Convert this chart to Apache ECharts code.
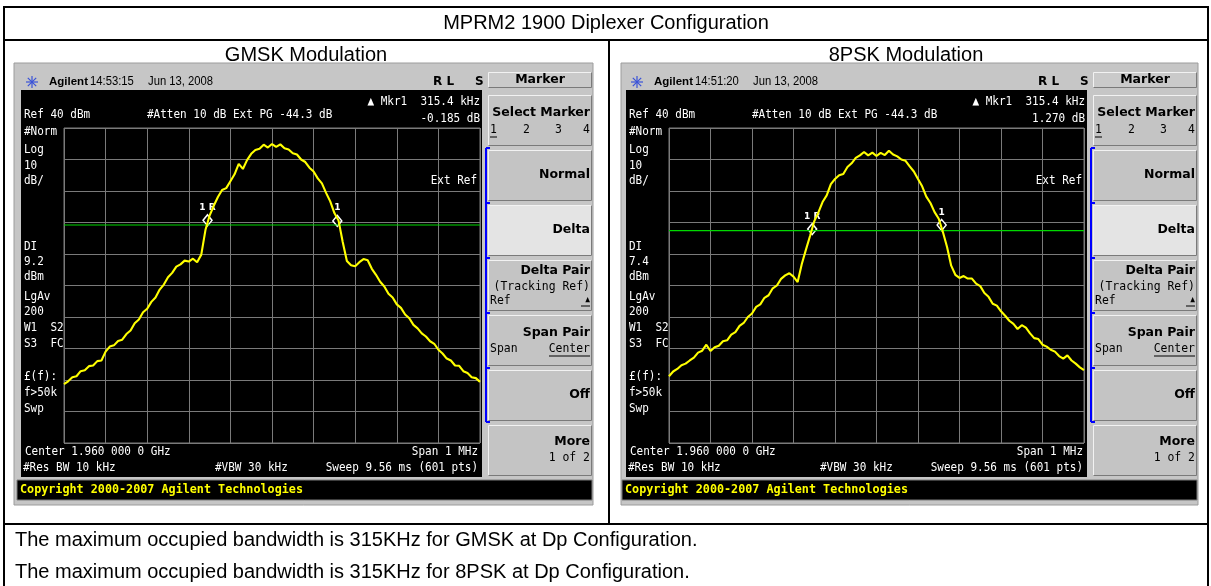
<!DOCTYPE html>
<html>
<head>
<meta charset="utf-8">
<script src="https://cdn.jsdelivr.net/npm/echarts@6/dist/echarts.min.js"></script>
<style>
html, body { margin: 0; padding: 0; background: #fff; }
#main { width: 1211px; height: 586px; }
</style>
</head>
<body>
<div id="main"></div>
<script>
// sweep points, kHz offset from 1.960 GHz centre
const freqKHz = [
  -500, -490, -480, -470, -460, -450, -440, -430, -420, -410,
  -400, -390, -380, -370, -360, -350, -340, -330, -320, -310,
  -300, -290, -280, -270, -260, -250, -240, -230, -220, -210,
  -200, -190, -180, -170, -160, -150, -140, -130, -120, -110,
  -100, -90, -80, -70, -60, -50, -40, -30, -20, -10,
  0, 10, 20, 30, 40, 50, 60, 70, 80, 90,
  100, 110, 120, 130, 140, 150, 160, 170, 180, 190,
  200, 210, 220, 230, 240, 250, 260, 270, 280, 290,
  300, 310, 320, 330, 340, 350, 360, 370, 380, 390,
  400, 410, 420, 430, 440, 450, 460, 470, 480, 490, 500
];

// GMSK trace, dBm
const gmskTrace = [
  -41.3, -40.4, -39.1, -38.8, -37.2, -36.9, -35.6, -35.4, -34.0, -33.8,
  -31.0, -29.4, -29.0, -27.6, -27.2, -25.4, -24.3, -22.0, -20.8, -18.5,
  -17.4, -15.2, -13.8, -11.3, -9.7, -7.4, -6.0, -4.0, -3.3, -2.1,
  -2.4, -1.5, -2.6, -0.2, 7.6, 12.2, 15.3, 18.1, 20.3, 20.9,
  23.1, 25.3, 28.6, 27.0, 29.8, 31.8, 33.0, 33.4, 34.7, 33.8,
  34.9, 34.0, 34.8, 33.6, 33.2, 32.0, 31.6, 30.0, 29.2, 27.4,
  26.2, 24.0, 22.4, 19.4, 16.7, 13.0, 10.6, 3.8, -2.2, -3.6,
  -3.9, -2.6, -1.6, -2.0, -4.7, -6.6, -8.8, -10.3, -12.6, -13.8,
  -16.0, -17.1, -19.2, -20.4, -22.5, -23.6, -25.2, -26.2, -27.7, -28.5,
  -30.4, -31.6, -33.2, -33.8, -35.4, -35.5, -37.2, -37.8, -39.1, -39.4, -40.6
];

// 8PSK trace, dBm
const psk8Trace = [
  -38.8, -37.3, -36.5, -35.3, -34.8, -33.8, -32.9, -31.3, -30.7, -28.8,
  -30.8, -29.6, -29.1, -27.7, -27.4, -25.6, -24.8, -22.8, -21.9, -20.0,
  -18.9, -16.8, -16.0, -13.9, -13.1, -10.9, -10.0, -7.9, -6.8, -6.1,
  -7.2, -8.9, -3.2, 1.4, 5.8, 10.4, 13.2, 16.5, 18.6, 22.2,
  23.8, 25.0, 25.4, 27.6, 28.8, 30.5, 31.3, 32.4, 31.3, 32.2,
  31.1, 32.1, 31.4, 32.8, 31.6, 31.0, 30.0, 29.6, 27.8, 26.2,
  23.8, 21.5, 18.2, 16.2, 13.3, 11.2, 7.0, 2.2, -3.7, -6.6,
  -7.6, -7.0, -7.8, -7.8, -9.4, -10.2, -12.4, -13.6, -15.8, -16.4,
  -18.2, -19.6, -21.2, -22.2, -23.8, -22.6, -23.4, -25.2, -26.7, -27.0,
  -28.8, -29.4, -30.4, -31.0, -32.4, -33.2, -32.2, -33.8, -34.8, -36.0, -36.9
];

// markers [kHz, dBm] and display line
const markerNames = ['1 R', '1'];
const gmskMarkers = [[-155, 10.7], [157, 10.5]];
const psk8Markers = [[-155, 7.9], [157, 9.2]];
const gmskDisplayLine = 9.2;
const psk8DisplayLine = 7.4;

// screen scale: ref level 40 dBm, 10 dB/div, span 1 MHz
const yRange = [-60, 40, 10];
const xRange = [-500, 500, 100];

// text
const pageTitle = 'MPRM2 1900 Diplexer Configuration';
const panelTitles = ['GMSK Modulation', '8PSK Modulation'];
const clocks = [['14:53:15', 'Jun 13, 2008'], ['14:51:20', 'Jun 13, 2008']];
const mkrDeltas = ['-0.185 dB', '1.270 dB'];
const notes = [
  'The maximum occupied bandwidth is 315KHz for GMSK at Dp Configuration.',
  'The maximum occupied bandwidth is 315KHz for 8PSK at Dp Configuration.'
];

const MONO = '"DejaVu Sans Mono", monospace';
const SANS = '"DejaVu Sans", sans-serif';
const ARIAL = '"Liberation Sans", Arial, sans-serif';

var myChart = echarts.init(document.getElementById('main'));

function txt(x, y, s, o) {
  o = o || {};
  var el = {
    type: 'text', x: x, y: y, z: 20,
    style: {
      text: s,
      fill: o.fill || '#fff',
      font: (o.weight || 'normal') + ' ' + (o.size || 12.5) + 'px ' + (o.family || MONO),
      textAlign: o.align || 'left',
      align: o.align || 'left',
      textVerticalAlign: 'middle',
      verticalAlign: 'middle'
    }
  };
  // instrument font is tall and narrow
  var sx = o.sx || ((o.family || MONO) === MONO ? 0.88 : 1);
  if (sx !== 1) el.scaleX = sx;
  return el;
}

function rect(x, y, w, h, fill, stroke, z) {
  return {
    type: 'rect', z: z || 1,
    shape: { x: x, y: y, width: w, height: h },
    style: { fill: fill, stroke: stroke || null, lineWidth: stroke ? 1 : 0 }
  };
}

function line(x1, y1, x2, y2, color, w, z) {
  return {
    type: 'line', z: z || 12,
    shape: { x1: x1, y1: y1, x2: x2, y2: y2 },
    style: { stroke: color, lineWidth: w || 1 }
  };
}

function key(x, y, w, h, fill) {
  return [
    rect(x, y, w, h, fill, null, 2),
    { type: 'polyline', z: 3, shape: { points: [[x + 0.5, y + h - 0.5], [x + 0.5, y + 0.5], [x + w - 0.5, y + 0.5]] },
      style: { stroke: '#f2f2f2', lineWidth: 1, fill: null } },
    { type: 'polyline', z: 3, shape: { points: [[x + 0.5, y + h - 0.5], [x + w - 0.5, y + h - 0.5], [x + w - 0.5, y + 0.5]] },
      style: { stroke: '#7a7a7a', lineWidth: 1, fill: null } }
  ];
}

// one analyzer screenshot, dx = horizontal offset
function screen(dx, frameLeft, clock, mkrDelta, dl) {
  var g = [];
  var X = function (v) { return v + dx; };
  var head = { fill: '#000', family: ARIAL, size: 12.5, sx: 0.9 };

  g.push(rect(frameLeft, 63, X(593) - frameLeft, 442, '#c6c6c6', '#9c9c9c', 1));
  g.push(rect(X(21), 90, 461, 387, '#000', null, 2));
  g.push(rect(X(17), 480, 575, 20, '#000', '#7c7c7c', 2));

  // agilent spark
  var cx = X(32), cy = 82;
  [[6, 0], [0, 6], [4.2, 4.2], [4.2, -4.2]].forEach(function (d) {
    g.push(line(cx - d[0], cy - d[1], cx + d[0], cy + d[1], '#3a52d8', 1.2, 4));
  });
  g.push(txt(X(49), 82, 'Agilent', { fill: '#000', weight: 'bold', family: ARIAL, size: 11.5 }));
  g.push(txt(X(90), 82, clock[0], head));
  g.push(txt(X(148), 82, clock[1], head));
  g.push(txt(X(433), 82, 'R L', { fill: '#000', weight: 'bold', family: SANS, size: 12 }));
  g.push(txt(X(475), 82, 'S', { fill: '#000', weight: 'bold', family: SANS, size: 12 }));

  // top annotations
  g.push(txt(X(480), 102, '\u25B2 Mkr1  315.4 kHz', { align: 'right' }));
  g.push(txt(X(480), 119, mkrDelta, { align: 'right' }));
  g.push(txt(X(24), 115, 'Ref 40 dBm'));
  g.push(txt(X(147), 115, '#Atten 10 dB'));
  g.push(txt(X(233), 115, 'Ext PG -44.3 dB'));
  g.push(txt(X(477), 181, 'Ext Ref', { align: 'right' }));

  // left margin
  [['#Norm', 132], ['Log', 150], ['10', 166], ['dB/', 181], ['DI', 247], [dl, 262], ['dBm', 277],
   ['LgAv', 297], ['200', 312], ['W1  S2', 328], ['S3  FC', 344], ['\u00A3(f):', 377],
   ['f>50k', 393], ['Swp', 409]].forEach(function (n) {
    g.push(txt(X(24), n[1], n[0]));
  });

  // bottom annotations
  g.push(txt(X(25), 452, 'Center 1.960 000 0 GHz'));
  g.push(txt(X(478), 452, 'Span 1 MHz', { align: 'right' }));
  g.push(txt(X(23), 468, '#Res BW 10 kHz'));
  g.push(txt(X(215), 468, '#VBW 30 kHz'));
  g.push(txt(X(478), 468, 'Sweep 9.56 ms (601 pts)', { align: 'right' }));
  g.push(txt(X(20), 490, 'Copyright 2000-2007 Agilent Technologies', { fill: '#ffff00', weight: 'bold', size: 12.5, sx: 0.94 }));

  // softkeys
  var kx = X(488), kw = 104, kr = X(590);
  var bold = { fill: '#000', weight: 'bold', family: SANS, size: 12.5, align: 'right' };
  var thin = { fill: '#000', size: 13 };
  g = g.concat(key(kx, 72, kw, 16, '#cacaca'));
  g.push(txt(X(540), 80, 'Marker', { fill: '#000', weight: 'bold', family: SANS, size: 12.5, align: 'center' }));
  var fills = ['#c4c4c4', '#c4c4c4', '#e4e4e4', '#c4c4c4', '#c4c4c4', '#c4c4c4', '#c4c4c4'];
  for (var i = 0; i < 7; i++) {
    g = g.concat(key(kx, 95 + 55 * i, kw, 51, fills[i]));
  }
  g.push(txt(kr, 113, 'Select Marker', bold));
  g.push(txt(X(490), 130, '1', thin));
  g.push(line(X(490), 137, X(497), 137, '#000', 1, 21));
  g.push(txt(X(523), 130, '2', thin));
  g.push(txt(X(555), 130, '3', thin));
  g.push(txt(kr, 130, '4', Object.assign({}, thin, { align: 'right' })));
  g.push(txt(kr, 175, 'Normal', bold));
  g.push(txt(kr, 230, 'Delta', bold));
  g.push(txt(kr, 271, 'Delta Pair', bold));
  g.push(txt(kr, 287, '(Tracking Ref)', Object.assign({}, thin, { align: 'right' })));
  g.push(txt(X(490), 301, 'Ref', thin));
  g.push(txt(kr, 300, '\u25B2', Object.assign({}, thin, { size: 9, align: 'right' })));
  g.push(line(X(581), 306, X(590), 306, '#000', 1, 21));
  g.push(txt(kr, 333, 'Span Pair', bold));
  g.push(txt(X(490), 349, 'Span', thin));
  g.push(txt(kr, 349, 'Center', Object.assign({}, thin, { align: 'right' })));
  g.push(line(X(549), 356, X(590), 356, '#000', 1, 21));
  g.push(txt(kr, 395, 'Off', bold));
  g.push(txt(kr, 442, 'More', bold));
  g.push(txt(kr, 458, '1 of 2', Object.assign({}, thin, { align: 'right' })));

  // blue bracket beside the marker keys
  g.push(line(X(486), 148, X(486), 422, '#0000ff', 2, 4));
  [148, 203, 258, 313, 368, 422].forEach(function (y) {
    g.push(line(X(486), y, X(490), y, '#0000ff', 2, 4));
  });
  return g;
}

// page table
var graphics = [];
graphics.push(line(4, 7, 1208, 7, '#000', 2));
graphics.push(line(4, 40, 1208, 40, '#000', 2));
graphics.push(line(4, 524, 1208, 524, '#000', 2));
graphics.push(line(4, 6, 4, 586, '#000', 2));
graphics.push(line(1208, 6, 1208, 586, '#000', 2));
graphics.push(line(609, 40, 609, 524, '#000', 2));
graphics.push(txt(606, 23, pageTitle, { fill: '#000', family: ARIAL, size: 20, align: 'center' }));
graphics.push(txt(306, 55, panelTitles[0], { fill: '#000', family: ARIAL, size: 20, align: 'center' }));
graphics.push(txt(906, 55, panelTitles[1], { fill: '#000', family: ARIAL, size: 20, align: 'center' }));
graphics.push(txt(15, 540, notes[0], { fill: '#000', family: ARIAL, size: 20 }));
graphics.push(txt(15, 572, notes[1], { fill: '#000', family: ARIAL, size: 20 }));
graphics = graphics.concat(screen(0, 14, clocks[0], mkrDeltas[0], String(gmskDisplayLine)));
graphics = graphics.concat(screen(605, 621, clocks[1], mkrDeltas[1], String(psk8DisplayLine)));

function zip(xs, ys) {
  return xs.map(function (x, i) { return [x, ys[i]]; });
}

function axisX(idx) {
  return {
    type: 'value', gridIndex: idx, min: xRange[0], max: xRange[1], interval: xRange[2], z: 5,
    axisLine: { show: false }, axisTick: { show: false }, axisLabel: { show: false },
    splitLine: { show: true, lineStyle: { color: '#7a7a7a', width: 1 } }
  };
}
function axisY(idx) {
  return {
    type: 'value', gridIndex: idx, min: yRange[0], max: yRange[1], interval: yRange[2], z: 5,
    axisLine: { show: false }, axisTick: { show: false }, axisLabel: { show: false },
    splitLine: { show: true, lineStyle: { color: '#7a7a7a', width: 1 } }
  };
}

// green display line across the full span
function displayLine(idx, dl) {
  return {
    type: 'line', xAxisIndex: idx, yAxisIndex: idx, z: 6,
    data: [[xRange[0], dl], [xRange[1], dl]],
    showSymbol: false, silent: true,
    lineStyle: { color: '#00d800', width: 1.2 }
  };
}

function trace(idx, values, markers) {
  return {
    type: 'line', xAxisIndex: idx, yAxisIndex: idx, z: 7,
    data: zip(freqKHz, values),
    showSymbol: false, silent: true,
    lineStyle: { color: '#ffff00', width: 2.1 },
    markPoint: {
      symbol: 'diamond', symbolSize: [9, 11],
      itemStyle: { color: '#000', borderColor: '#fff', borderWidth: 1.5 },
      label: {
        show: true, position: 'top', distance: 2, formatter: '{b}',
        color: '#fff', fontSize: 9, fontWeight: 'bold', fontFamily: SANS
      },
      data: markers.map(function (m, i) { return { name: markerNames[i], coord: m }; })
    }
  };
}

var chartOption = {
  animation: false,
  backgroundColor: '#fff',
  grid: [
    { left: 64, top: 128, width: 416, height: 315, show: true, z: 5, borderColor: '#7a7a7a', borderWidth: 1, backgroundColor: 'transparent' },
    { left: 669, top: 128, width: 415, height: 315, show: true, z: 5, borderColor: '#7a7a7a', borderWidth: 1, backgroundColor: 'transparent' }
  ],
  xAxis: [axisX(0), axisX(1)],
  yAxis: [axisY(0), axisY(1)],
  series: [
    displayLine(0, gmskDisplayLine),
    trace(0, gmskTrace, gmskMarkers),
    displayLine(1, psk8DisplayLine),
    trace(1, psk8Trace, psk8Markers)
  ],
  graphic: { elements: graphics }
};

chartOption && myChart.setOption(chartOption);
</script>
</body>
</html>
